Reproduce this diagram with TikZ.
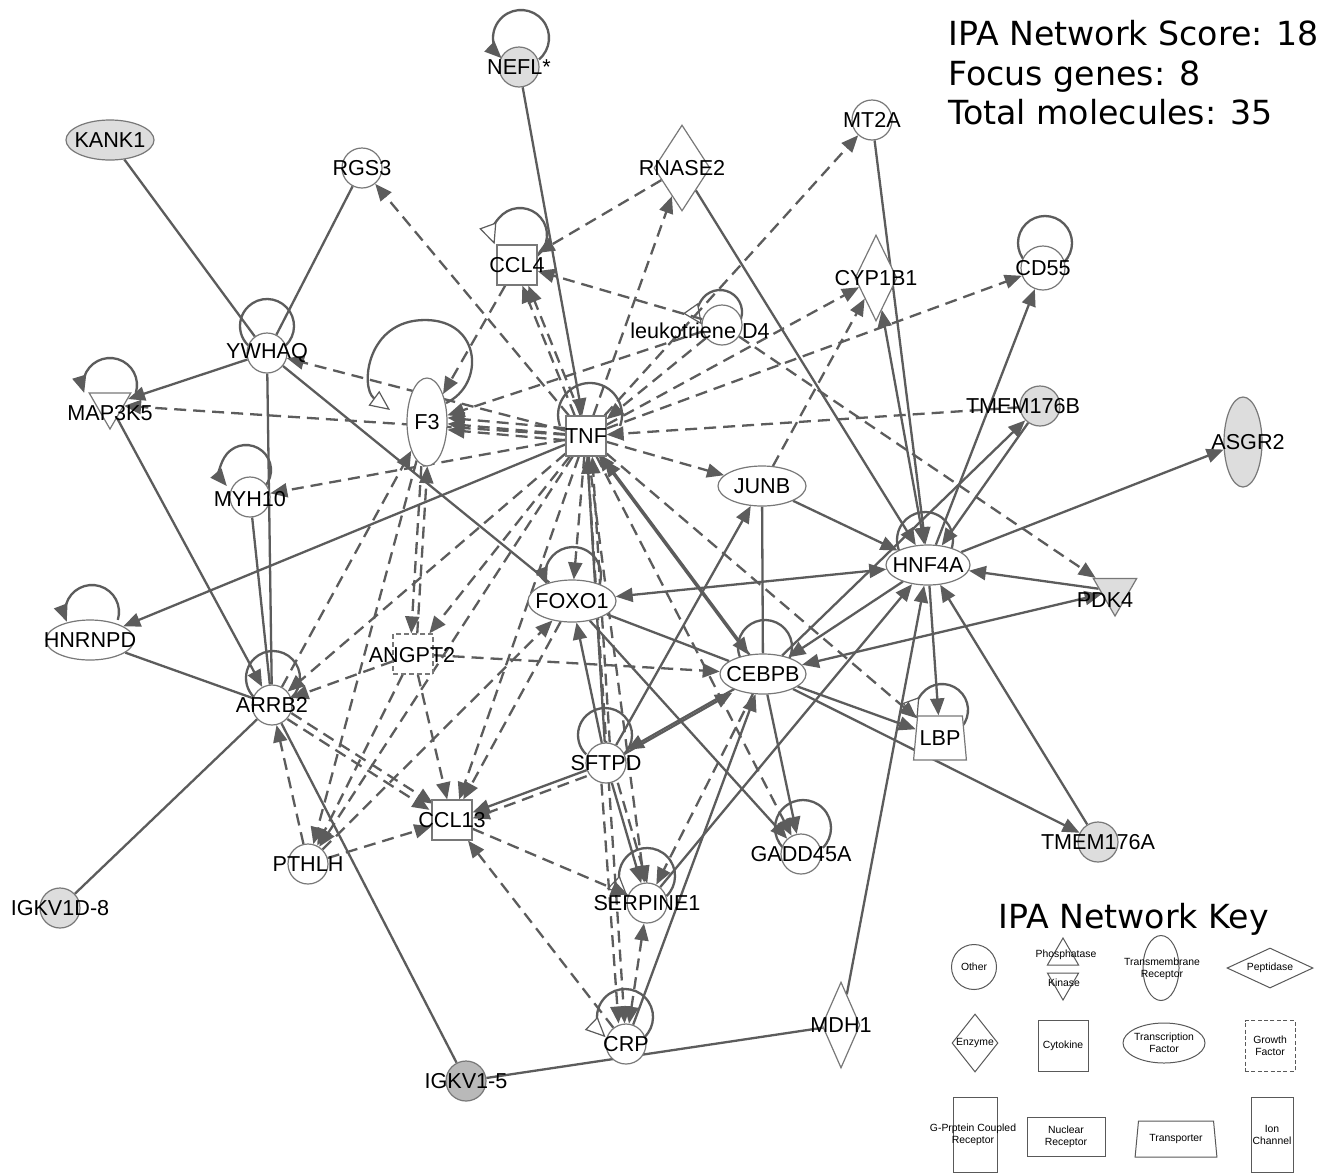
\documentclass[tikz,border=0pt]{standalone}
\usepackage{fontspec}
\setmainfont{Liberation Sans}
\newfontfamily\hdrfont{DejaVu Sans}
\usetikzlibrary{shapes.geometric,arrows.meta}
\pgfdeclarelayer{bg}
\pgfsetlayers{bg,main}
\definecolor{edgec}{RGB}{92,92,92}
\definecolor{nodec}{RGB}{120,120,120}
\definecolor{focus}{RGB}{221,221,221}
\definecolor{focusd}{RGB}{185,185,185}
\newcommand{\gloop}[6]{\draw[#6] (#1,-#2) ++(#4:#3) arc[start angle=#4, end angle=#5, radius=#3];}
\begin{document}
\begin{tikzpicture}[x=0.5pt,y=0.5pt,
  >={Triangle[length=8.5pt,width=7pt]},
  gene/.style={draw=nodec, line width=0.6pt, fill=white, inner sep=0pt},
  circ/.style={gene, circle, minimum size=20pt},
  ell/.style={gene, ellipse},
  dia/.style={gene, diamond},
  sq/.style={gene, rectangle, minimum width=20pt, minimum height=20pt},
  kin/.style={gene, regular polygon, regular polygon sides=3, shape border rotate=180, minimum size=24pt},
  foc/.style={fill=focus},
  lbl/.style={font=\fontsize{10.8}{12}\selectfont, inner sep=0pt, text=black},
  ln/.style={draw=edgec, line width=1.15pt},
  lna/.style={ln, ->},
  lnab/.style={ln, <->},
  dl/.style={ln, dash pattern=on 6pt off 3.5pt},
  dla/.style={dl, ->},
  dlab/.style={dl, <->},
  lp/.style={ln},
  lpa/.style={ln, ->},
  lpw/.style={ln, -{Triangle[length=10pt,width=9pt,fill=white,line width=0.6pt]}},
  hdr/.style={font=\hdrfont\fontsize{16.6}{20}\selectfont, anchor=base west, inner sep=0pt},
  kshape/.style={draw=black!65, line width=0.5pt, fill=white, inner sep=0pt},
  ktxt/.style={font=\fontsize{5.2}{6}\selectfont, align=center, inner sep=0pt}
]
\useasboundingbox (0,0) rectangle (1320,-1173);

% ---------- header ----------
\node[hdr] (h1) at (948,-45) {IPA Network Score: 18};
\node[hdr] (h2) at (948,-85) {Focus genes: 8};
\node[hdr] (h3) at (948,-124) {Total molecules: 35};

% ---------- genes ----------
\node[circ, foc, label={[lbl]center:NEFL*}] (NEFL) at (519,-67) {};
\node[ell, foc, minimum width=44pt, minimum height=20pt, label={[lbl]center:KANK1}] (KANK1) at (110,-140) {};
\node[circ, label={[lbl]center:RGS3}] (RGS3) at (362,-168) {};
\node[dia, minimum width=28pt, minimum height=43pt, label={[lbl]center:RNASE2}] (RNASE2) at (682,-168) {};
\node[circ, label={[lbl]center:MT2A}] (MT2A) at (872,-120) {};
\node[sq, label={[lbl]center:CCL4}] (CCL4) at (517,-265) {};
\node[circ] (LEUK) at (722,-325) {};
\node[lbl] (tLEUK) at (700,-331) {leukotriene D4};
\node[dia, minimum width=21pt, minimum height=43pt, label={[lbl]center:CYP1B1}] (CYP1B1) at (876,-278) {};
\node[circ, minimum size=22pt, label={[lbl]center:CD55}] (CD55) at (1043,-268) {};
\node[circ, label={[lbl]center:YWHAQ}] (YWHAQ) at (267,-353) {};
\node[kin] (MAP3K5) at (110,-405) {};
\node[lbl] (tMAP3K5) at (110,-413) {MAP3K5};
\node[ell, minimum width=20pt, minimum height=44pt, label={[lbl]center:F3}] (F3) at (427,-422) {};
\node[sq, label={[lbl]center:TNF}] (TNF) at (586,-436) {};
\node[circ, foc] (TMEM176B) at (1040,-406) {};
\node[lbl] (tTMEM176B) at (1023,-406) {TMEM176B};
\node[ell, foc, minimum width=19pt, minimum height=45pt] (ASGR2) at (1243,-442) {};
\node[lbl] (tASGR2) at (1248,-442) {ASGR2};
\node[ell, minimum width=44pt, minimum height=20pt, label={[lbl]center:JUNB}] (JUNB) at (762,-486) {};
\node[circ] (MYH10) at (250,-497) {};
\node[lbl] (tMYH10) at (250,-499) {MYH10};
\node[ell, minimum width=42pt, minimum height=20pt, label={[lbl]center:HNF4A}] (HNF4A) at (928,-565) {};
\node[kin, foc, minimum size=25pt] (PDK4) at (1115,-591) {};
\node[lbl] (tPDK4) at (1105,-600) {PDK4};
\node[ell, minimum width=44pt, minimum height=21pt, label={[lbl]center:FOXO1}] (FOXO1) at (572,-601) {};
\node[ell, minimum width=44pt, minimum height=20pt, label={[lbl]center:HNRNPD}] (HNRNPD) at (90,-640) {};
\node[sq, dash pattern=on 2.5pt off 1.5pt] (ANGPT2) at (413,-654) {};
\node[lbl] (tANGPT2) at (412,-655) {ANGPT2};
\node[ell, minimum width=43pt, minimum height=20pt, label={[lbl]center:CEBPB}] (CEBPB) at (763,-674) {};
\node[circ, label={[lbl]center:ARRB2}] (ARRB2) at (272,-705) {};
\node[gene, trapezium, trapezium left angle=78, trapezium right angle=78, trapezium stretches=true, inner sep=1pt, minimum width=21pt, minimum height=22pt, font=\fontsize{10.8}{12}\selectfont] (LBP) at (940,-738) {LBP};
\node[circ, label={[lbl]center:SFTPD}] (SFTPD) at (606,-763) {};
\node[sq, label={[lbl]center:CCL13}] (CCL13) at (452,-820) {};
\node[circ, label={[lbl]center:GADD45A}] (GADD45A) at (801,-854) {};
\node[circ, label={[lbl]center:PTHLH}] (PTHLH) at (308,-864) {};
\node[circ, foc, label={[lbl]center:TMEM176A}] (TMEM176A) at (1098,-842) {};
\node[circ, label={[lbl]center:SERPINE1}] (SERPINE1) at (647,-903) {};
\node[circ, foc, label={[lbl]center:IGKV1D-8}] (IGKV1D8) at (60,-908) {};
\node[circ, label={[lbl]center:CRP}] (CRP) at (626,-1044) {};
\node[dia, minimum width=19pt, minimum height=43pt, label={[lbl]center:MDH1}] (MDH1) at (841,-1025) {};
\node[circ, fill=focusd, label={[lbl]center:IGKV1-5}] (IGKV15) at (466,-1081) {};

% ---------- key ----------
\node[hdr] (ktitle) at (998,-928) {IPA Network Key};
\node[kshape, circle, minimum size=22.5pt, label={[ktxt]center:Other}] (kOther) at (974,-967) {};
\node[kshape, regular polygon, regular polygon sides=3, minimum size=18pt] (kPhos) at (1063,-956) {};
\node[ktxt] (tPhos) at (1066,-955) {Phosphatase};
\node[kshape, regular polygon, regular polygon sides=3, shape border rotate=180, minimum size=18pt] (kKin) at (1063,-982) {};
\node[ktxt] (tKin) at (1064,-983) {Kinase};
\node[kshape, ellipse, minimum width=18pt, minimum height=32.5pt] (kTM) at (1161,-968) {};
\node[ktxt] (tTM) at (1162,-969) {Transmembrane\\Receptor};
\node[kshape, diamond, minimum width=43pt, minimum height=20pt, label={[ktxt]center:Peptidase}] (kPep) at (1270,-968) {};
\node[kshape, diamond, minimum width=23pt, minimum height=29pt] (kEnz) at (975,-1043) {};
\node[ktxt] (tEnz) at (975,-1043) {Enzyme};
\node[kshape, rectangle, minimum width=25pt, minimum height=25.5pt, label={[ktxt]center:Cytokine}] (kCyt) at (1063,-1046) {};
\node[kshape, ellipse, minimum width=41pt, minimum height=20pt] (kTF) at (1164,-1043) {};
\node[ktxt] (tTF) at (1164,-1043) {Transcription\\Factor};
\node[kshape, rectangle, dash pattern=on 2pt off 1.2pt, minimum width=25pt, minimum height=25.5pt] (kGF) at (1270,-1046) {};
\node[ktxt] (tGF) at (1270,-1046) {Growth\\Factor};
\node[kshape, rectangle, minimum width=22pt, minimum height=37.5pt] (kGP) at (975,-1135) {};
\node[ktxt] (tGP) at (973,-1135) {G-Prptein Coupled\\Receptor};
\node[kshape, rectangle, minimum width=39pt, minimum height=19.5pt] (kNR) at (1066,-1137) {};
\node[ktxt] (tNR) at (1066,-1137) {Nuclear\\Receptor};
\node[kshape, trapezium, trapezium left angle=79, trapezium right angle=79, trapezium stretches=true, inner sep=1pt, minimum width=41pt, minimum height=18pt, font=\fontsize{5.2}{6}\selectfont] (kTr) at (1176,-1139) {Transporter};
\node[kshape, rectangle, minimum width=21pt, minimum height=37.5pt] (kIC) at (1272,-1135) {};
\node[ktxt] (tIC) at (1272,-1135) {Ion\\Channel};

\begin{pgfonlayer}{bg}
\fill[white] (0,0) rectangle (1320,-1173);
% ---------- self loops ----------
\gloop{521}{38}{28}{-50}{226}{lpa}
\gloop{520}{235}{27}{-50}{200}{lpw}
\gloop{720}{312}{22}{-40}{215}{lpw}
\gloop{1045}{243}{27}{-45}{225}{lp}
\gloop{267}{326}{27}{-46}{226}{lp}
\gloop{110}{385}{27}{-17}{197}{lpa}
\draw[lpw] (446,-403) .. controls (485,-385) and (482,-320) .. (425,-320) .. controls (366,-320) and (360,-388) .. (390,-410);
\gloop{590}{415}{32}{-20}{200}{lp}
\gloop{573}{575}{28}{-20}{200}{lpa}
\gloop{925}{540}{28}{-25}{205}{lp}
\gloop{765}{647}{27}{-25}{205}{lp}
\gloop{273}{678}{27}{-46}{226}{lp}
\gloop{942}{710}{26}{-40}{200}{lpw}
\gloop{605}{735}{27}{-46}{226}{lp}
\gloop{803}{828}{28}{-45}{225}{lp}
\gloop{647}{876}{28}{-46}{226}{lpw}
\gloop{625}{1017}{28}{-46}{226}{lpw}
\gloop{246}{470}{25}{-40}{220}{lpa}
\gloop{92}{612}{27}{-17}{201}{lpa}

% ---------- solid edges ----------
\draw[ln] (KANK1) -- (YWHAQ);
\draw[ln] (RGS3) -- (YWHAQ);
\draw[lna] (YWHAQ) -- (MAP3K5);
\draw[ln] (YWHAQ) -- (ARRB2);
\draw[ln] (YWHAQ) -- (FOXO1);
\draw[lna] (MAP3K5) -- (ARRB2);
\draw[ln] (MYH10) -- (ARRB2);
\draw[lna] (NEFL) -- (TNF);
\draw[lna] (RNASE2) -- (HNF4A);
\draw[lna] (MT2A) -- (HNF4A);
\draw[lnab] (HNF4A) -- (CYP1B1);
\draw[lna] (HNF4A) -- (CD55);
\draw[lna] (CEBPB) -- (TMEM176B);
\draw[lna] (TMEM176B) -- (HNF4A);
\draw[lna] (JUNB) -- (HNF4A);
\draw[lna] (HNF4A) -- (ASGR2);
\draw[lna] (PDK4) -- (HNF4A);
\draw[lnab] (CEBPB) -- (PDK4);
\draw[lna] (TNF) -- (HNRNPD);
\draw[ln] (HNRNPD) -- (ARRB2);
\draw[ln] (ARRB2) -- (IGKV1D8);
\draw[ln] (ARRB2) -- (IGKV15);
\draw[ln] (IGKV15) -- (MDH1);
\draw[lna] (MDH1) -- (HNF4A);
\draw[lnab] (FOXO1) -- (HNF4A);
\draw[ln] (FOXO1) -- (CEBPB);
\draw[lna] (FOXO1) -- (GADD45A);
\draw[lna] (SFTPD) -- (FOXO1);
\draw[lna] (SFTPD) -- (TNF);
\draw[lna] (SFTPD) -- (JUNB);
\draw[lna, transform canvas={shift={(-1.5pt,-1.5pt)}}] (SFTPD) -- (CEBPB);
\draw[lna, transform canvas={shift={(1.5pt,1.5pt)}}] (CEBPB) -- (SFTPD);
\draw[lna] (SFTPD) -- (CCL13);
\draw[lna] (SFTPD) -- (SERPINE1);
\draw[lna] (CEBPB) -- (GADD45A);
\draw[lna] (CEBPB) -- (LBP);
\draw[lna] (CEBPB) -- (TMEM176A);
\draw[lna] (HNF4A) -- (LBP);
\draw[lna] (TMEM176A) -- (HNF4A);
\draw[lna] (SERPINE1) -- (HNF4A);
\draw[lna] (CRP) -- (CEBPB);
\draw[lna] (HNF4A) -- (CEBPB);
\draw[lna, transform canvas={shift={(-1.5pt,1.5pt)}}] (CEBPB) -- (TNF);
\draw[lna, transform canvas={shift={(1.5pt,-1.5pt)}}] (CEBPB) -- (TNF);
\draw[ln] (JUNB) -- (CEBPB);

% ---------- dashed edges ----------
\draw[dla] (TNF) -- (RGS3);
\draw[dla, transform canvas={shift={(-1.5pt,0pt)}}] (TNF) -- (CCL4);
\draw[dla, transform canvas={shift={(1.5pt,0pt)}}] (TNF) -- (CCL4);
\draw[dla] (TNF) -- (RNASE2);
\draw[dla] (RNASE2) -- (CCL4);
\draw[dla] (LEUK) -- (CCL4);
\draw[dla] (CCL4) -- (F3);
\draw[dla] (TNF) -- (YWHAQ);
\draw[dla] (TNF) -- (MAP3K5);
\draw[dla, transform canvas={shift={(0pt,3pt)}}] (TNF) -- (F3);
\draw[dla] (TNF) -- (F3);
\draw[dla, transform canvas={shift={(0pt,-3pt)}}] (TNF) -- (F3);
\draw[dla] (TNF) -- (MYH10);
\draw[dla] (TNF) -- (JUNB);
\draw[dla] (TNF) -- (ANGPT2);
\draw[dla] (TNF) -- (ARRB2);
\draw[dla] (TNF) -- (PTHLH);
\draw[dla] (TNF) -- (CCL13);
\draw[dla] (TNF) -- (FOXO1);
\draw[dla] (TNF) -- (CEBPB);
\draw[dla] (TNF) -- (GADD45A);
\draw[dla] (TNF) -- (SERPINE1);
\draw[dla] (TNF) -- (CRP);
\draw[dla] (TNF) -- (LBP);
\draw[dla] (TNF) -- (CD55);
\draw[dla] (TNF) -- (CYP1B1);
\draw[dla] (TNF) -- (MT2A);
\draw[dla] (TMEM176B) -- (TNF);
\draw[dla] (LEUK) -- (PDK4);
\draw[dla] (LEUK) -- (F3);
\draw[dla] (LEUK) -- (TNF);
\draw[dla] (JUNB) -- (CYP1B1);
\draw[dla, transform canvas={shift={(-1.5pt,0pt)}}] (F3) -- (ANGPT2);
\draw[dla, transform canvas={shift={(1.5pt,0pt)}}] (ANGPT2) -- (F3);
\draw[dla] (ARRB2) -- (F3);
\draw[dla] (F3) -- (PTHLH);
\draw[dla] (ANGPT2) -- (ARRB2);
\draw[dla, transform canvas={shift={(1pt,1.5pt)}}] (ARRB2) -- (CCL13);
\draw[dla, transform canvas={shift={(-1pt,-1.5pt)}}] (ARRB2) -- (CCL13);
\draw[dla] (PTHLH) -- (ARRB2);
\draw[dla] (ANGPT2) -- (CCL13);
\draw[dla] (ANGPT2) -- (PTHLH);
\draw[dla] (ANGPT2) -- (CEBPB);
\draw[dla] (PTHLH) -- (CCL13);
\draw[dla] (PTHLH) -- (FOXO1);
\draw[dla] (FOXO1) -- (CCL13);
\draw[dla] (CCL13) -- (SERPINE1);
\draw[dla] (CRP) -- (CCL13);
\draw[dla] (CEBPB) -- (SERPINE1);
\draw[dlab] (SERPINE1) -- (CRP);
\draw[dla, transform canvas={shift={(-3pt,0pt)}}] (SFTPD) -- (CRP);
\draw[dla, transform canvas={shift={(2.5pt,0pt)}}] (SFTPD) -- (TNF);
\draw[dla, transform canvas={shift={(0pt,-3pt)}}] (SFTPD) -- (CCL13);
\draw[dla, transform canvas={shift={(3pt,0pt)}}] (SFTPD) -- (SERPINE1);
\end{pgfonlayer}
\end{tikzpicture}
\end{document}
